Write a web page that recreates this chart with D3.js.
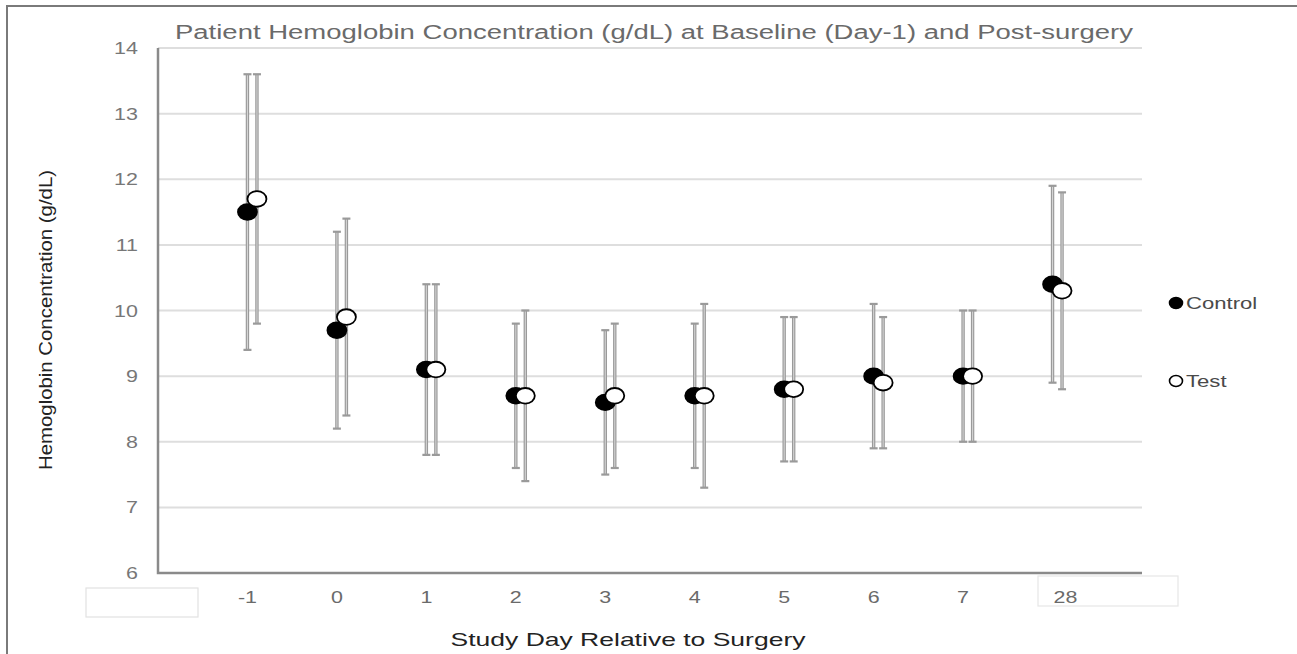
<!DOCTYPE html>
<html>
<head>
<meta charset="utf-8">
<script src="https://cdn.jsdelivr.net/npm/d3@7"></script>
<style>
  body { margin: 0; background: #fff; }
  svg { display: block; font-family: "Liberation Sans", Arial, Helvetica, sans-serif; }
</style>
</head>
<body>
<div id="chart"></div>
<script>
// categories (study day relative to surgery)
var days = ["-1", "0", "1", "2", "3", "4", "5", "6", "7", "28"];

// control group: mean and error bar limits
var controlMean = [11.5, 9.7, 9.1, 8.7, 8.6, 8.7, 8.8, 9.0, 9.0, 10.4];
var controlLow  = [9.4, 8.2, 7.8, 7.6, 7.5, 7.6, 7.7, 7.9, 8.0, 8.9];
var controlHigh = [13.6, 11.2, 10.4, 9.8, 9.7, 9.8, 9.9, 10.1, 10.0, 11.9];

// test group
var testMean = [11.7, 9.9, 9.1, 8.7, 8.7, 8.7, 8.8, 8.9, 9.0, 10.3];
var testLow  = [9.8, 8.4, 7.8, 7.4, 7.6, 7.3, 7.7, 7.9, 8.0, 8.8];
var testHigh = [13.6, 11.4, 10.4, 10.0, 9.8, 10.1, 9.9, 9.9, 10.0, 11.8];

var yTicks = [6, 7, 8, 9, 10, 11, 12, 13, 14];

(function() {
  var width = 1297, height = 654;
  var svg = d3.select("#chart").append("svg")
    .attr("width", width)
    .attr("height", height);

  // the original picture is a bit stretched sideways, so widen text to match
  function stretch(sel, k) {
    sel.each(function() {
      var w = this.getComputedTextLength();
      d3.select(this).attr("textLength", w * k).attr("lengthAdjust", "spacingAndGlyphs");
    });
  }

  // outer frame (left and top edges)
  svg.append("path")
    .attr("d", "M7,654 L7,6 L1297,6")
    .attr("fill", "none")
    .attr("stroke", "#7a7a7a")
    .attr("stroke-width", 2);

  var mLeft = 158, mRight = 1142, mTop = 48, mBottom = 573;

  // point scale: the axis sits at an empty leading slot, last slot empty too
  var x = d3.scalePoint()
    .domain(["_start"].concat(days, ["_end"]))
    .range([mLeft, mRight]);

  var y = d3.scaleLinear().domain([6, 14]).range([mBottom, mTop]);

  var series = [
    {name: "Control", mean: controlMean, low: controlLow, high: controlHigh, dx: 0, fill: "#000"},
    {name: "Test", mean: testMean, low: testLow, high: testHigh, dx: 9.5, fill: "#fff"}
  ];

  // gridlines
  svg.append("g").selectAll("line")
    .data(yTicks.slice(1))
    .enter().append("line")
    .attr("x1", mLeft).attr("x2", mRight)
    .attr("y1", function(d) { return y(d); })
    .attr("y2", function(d) { return y(d); })
    .attr("stroke", "#dedede")
    .attr("stroke-width", 2);

  // y tick labels
  var yLabels = svg.append("g").selectAll("text")
    .data(yTicks)
    .enter().append("text")
    .attr("x", 138)
    .attr("y", function(d) { return y(d) + 6; })
    .attr("text-anchor", "end")
    .attr("font-size", 16.5)
    .attr("fill", "#777")
    .text(function(d) { return d; });
  stretch(yLabels, 1.3);

  // axis lines
  svg.append("path")
    .attr("d", "M" + mLeft + "," + mTop + " L" + mLeft + "," + mBottom + " L" + mRight + "," + mBottom)
    .attr("fill", "none")
    .attr("stroke", "#8a8a8a")
    .attr("stroke-width", 2.5);

  // empty label boxes seen in the original
  svg.append("rect")
    .attr("x", 86).attr("y", 588).attr("width", 112).attr("height", 29)
    .attr("fill", "none").attr("stroke", "#e2e2e2").attr("stroke-width", 1.2);
  svg.append("rect")
    .attr("x", 1038).attr("y", 576).attr("width", 140).attr("height", 30)
    .attr("fill", "none").attr("stroke", "#e6e6e6").attr("stroke-width", 1.2);

  // x tick labels
  var xLabels = svg.append("g").selectAll("text")
    .data(days)
    .enter().append("text")
    .attr("x", function(d) { return d === "28" ? x(d) + 13 : x(d); })
    .attr("y", 603)
    .attr("text-anchor", "middle")
    .attr("font-size", 16.5)
    .attr("fill", "#6a6a6a")
    .text(function(d) { return d; });
  stretch(xLabels, 1.3);

  // error bars: grey outline with a lighter core, like the original
  series.forEach(function(s) {
    var bars = svg.append("g").selectAll("g")
      .data(days)
      .enter().append("g");
    [{c: "#9a9a9a", w: 3.4}, {c: "#d4d4d4", w: 1.1}].forEach(function(st) {
      bars.append("line")
        .attr("stroke", st.c).attr("stroke-width", st.w)
        .attr("x1", function(d) { return x(d) + s.dx; })
        .attr("x2", function(d) { return x(d) + s.dx; })
        .attr("y1", function(d, i) { return y(s.low[i]); })
        .attr("y2", function(d, i) { return y(s.high[i]); });
    });
    bars.append("line")
      .attr("stroke", "#9a9a9a").attr("stroke-width", 2.2)
      .attr("x1", function(d) { return x(d) + s.dx - 4; })
      .attr("x2", function(d) { return x(d) + s.dx + 4; })
      .attr("y1", function(d, i) { return y(s.low[i]); })
      .attr("y2", function(d, i) { return y(s.low[i]); });
    bars.append("line")
      .attr("stroke", "#9a9a9a").attr("stroke-width", 2.2)
      .attr("x1", function(d) { return x(d) + s.dx - 4; })
      .attr("x2", function(d) { return x(d) + s.dx + 4; })
      .attr("y1", function(d, i) { return y(s.high[i]); })
      .attr("y2", function(d, i) { return y(s.high[i]); });
  });

  // markers
  series.forEach(function(s) {
    svg.append("g").selectAll("ellipse")
      .data(days)
      .enter().append("ellipse")
      .attr("cx", function(d) { return x(d) + s.dx; })
      .attr("cy", function(d, i) { return y(s.mean[i]); })
      .attr("rx", 9.5)
      .attr("ry", 7.8)
      .attr("fill", s.fill)
      .attr("stroke", "#000")
      .attr("stroke-width", 1.8);
  });

  // legend
  var legend = svg.append("g").selectAll("g")
    .data(series)
    .enter().append("g")
    .attr("transform", function(d, i) { return "translate(1176," + (303 + i * 78) + ")"; });
  legend.append("ellipse")
    .attr("rx", 6.5)
    .attr("ry", 5.5)
    .attr("fill", function(d) { return d.fill; })
    .attr("stroke", "#000")
    .attr("stroke-width", 1.6);
  var legendText = legend.append("text")
    .attr("x", 10)
    .attr("y", 6)
    .attr("font-size", 17)
    .attr("fill", "#4a4a4a")
    .text(function(d) { return d.name; });
  stretch(legendText, 1.3);

  // titles
  svg.append("text")
    .attr("x", 654)
    .attr("y", 39)
    .attr("text-anchor", "middle")
    .attr("font-size", 20)
    .attr("fill", "#6a6a6a")
    .attr("textLength", 958)
    .attr("lengthAdjust", "spacingAndGlyphs")
    .text("Patient Hemoglobin Concentration (g/dL) at Baseline (Day-1) and Post-surgery");

  svg.append("text")
    .attr("transform", "translate(52,320) rotate(-90)")
    .attr("text-anchor", "middle")
    .attr("font-size", 19)
    .attr("fill", "#222")
    .attr("textLength", 300)
    .attr("lengthAdjust", "spacingAndGlyphs")
    .text("Hemoglobin Concentration (g/dL)");

  svg.append("text")
    .attr("x", 628)
    .attr("y", 646)
    .attr("text-anchor", "middle")
    .attr("font-size", 19)
    .attr("fill", "#222")
    .attr("textLength", 355)
    .attr("lengthAdjust", "spacingAndGlyphs")
    .text("Study Day Relative to Surgery");
})();
</script>
</body>
</html>
